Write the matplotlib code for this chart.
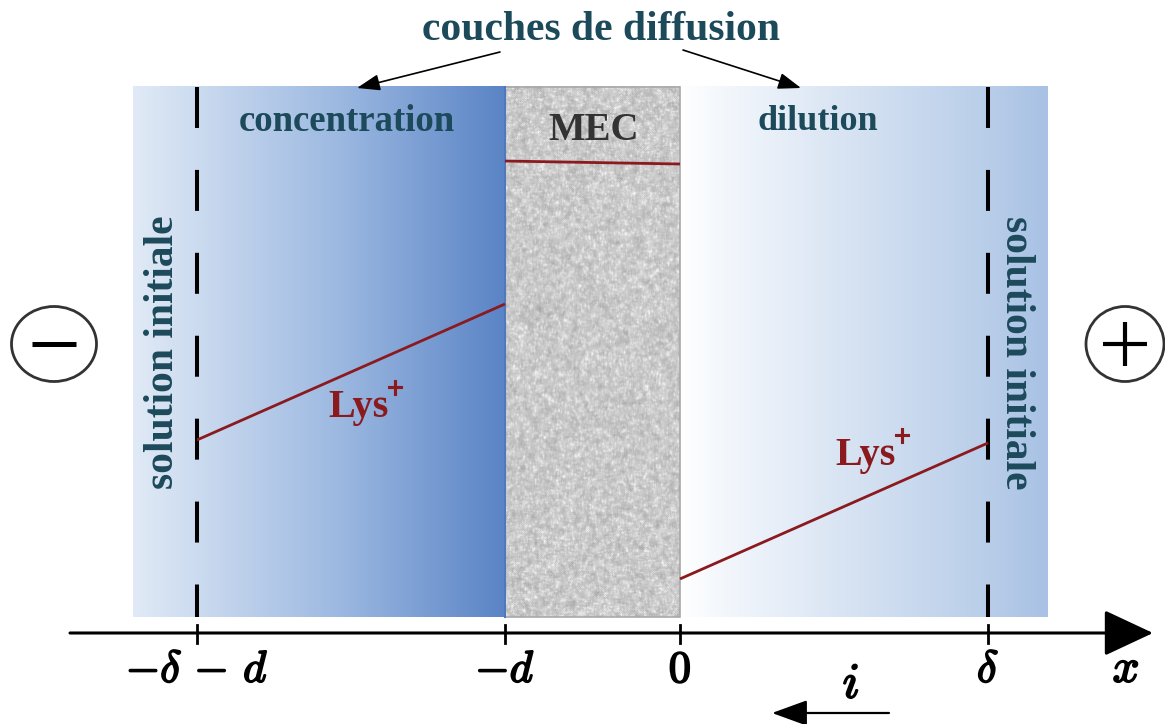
import numpy as np
import matplotlib
matplotlib.use("Agg")
import matplotlib.pyplot as plt
from matplotlib.patches import Ellipse, Rectangle
from matplotlib.colors import to_rgb
import matplotlib.patheffects as pe

plt.rcParams['mathtext.fontset'] = 'cm'
plt.rcParams['lines.scale_dashes'] = False

# ---------------- data (units of d) ----------------
d = 1.0
delta = 1.76
tick_positions = [-delta - d, -d, 0.0, delta]
tick_labels = [r'$-\delta\,-\,d$', r'$-d$', r'$0$', r'$\delta$']

# Lys+ concentration profiles (arbitrary units)
left_x = [-delta - d, -d]
left_c = [1.103, 1.880]
mem_x = [-d, 0.0]
mem_c = [2.697, 2.680]
right_x = [0.0, delta]
right_c = [0.309, 1.086]

# ---------------- layout ----------------
W, H = 1165, 724
U = 175.0           # pixels per unit
X0, Y0 = 680.0, 633.0  # pixel position of origin

fig = plt.figure(figsize=(W / 100, H / 100), dpi=100)
ax = fig.add_axes([0, 0, 1, 1])
ax.set_xlim(-X0 / U, (W - X0) / U)
ax.set_ylim((Y0 - H) / U, Y0 / U)
ax.axis('off')


def px(x):
    return (x - X0) / U


def py(y):
    return (Y0 - y) / U


teal = '#1c4a5b'
red = '#8b1a1f'
box_top, box_bot = py(87), py(617)
bold_fx = [pe.withStroke(linewidth=1.3, foreground='black')]


def gradient(x_a, x_b, stops, zorder=1):
    n = 400
    t = np.linspace(0, 1, n)
    pos = [s[0] for s in stops]
    cols = np.array([to_rgb(s[1]) for s in stops])
    rgb = np.stack([np.interp(t, pos, cols[:, k]) for k in range(3)], axis=-1)
    img = rgb[np.newaxis, :, :]
    ax.imshow(img, extent=[x_a, x_b, box_bot, box_top], aspect='auto',
              interpolation='bilinear', zorder=zorder)


# left solution + concentration layer
x_outer_l = px(133)
gradient(x_outer_l, -d, [(0, '#e1eaf6'), (0.16, '#cddcf0'), (0.55, '#9db9e1'), (1, '#5a84c6')])
# dilution layer + right solution
x_outer_r = px(1048)
gradient(0.0, x_outer_r, [(0, '#ffffff'), (0.12, '#f3f7fc'), (0.83, '#b9cee9'), (1, '#a8c1e4')])

# membrane texture
rng = np.random.default_rng(7)
hh, ww = 530, 175
noise = rng.random((hh, ww))
k = 2
pad = np.pad(noise, k, mode='edge')
blur = np.zeros_like(noise)
for i in range(2 * k + 1):
    for j in range(2 * k + 1):
        blur += pad[i:i + hh, j:j + ww]
blur /= (2 * k + 1) ** 2
blur = (blur - blur.mean()) / blur.std()
speck = (rng.random((hh, ww)) > 0.90).astype(float)
sp = np.pad(speck, 1, mode='edge')
speck = (sp[:-2, 1:-1] + sp[2:, 1:-1] + sp[1:-1, :-2] + sp[1:-1, 2:] + speck) / 5
g = 0.77 + 0.03 * blur + 0.24 * speck
g = np.clip(g, 0.62, 0.97)
ax.imshow(g, cmap='gray', vmin=0, vmax=1, extent=[-d, 0, box_bot, box_top],
          aspect='auto', interpolation='bilinear', zorder=1)
ax.add_patch(Rectangle((-d, box_bot), d, box_top - box_bot, fill=False,
                       ec='#a9a9a9', lw=1.2, zorder=2))
ax.plot([-d, -d], [box_bot, box_top], color='#4f79bb', lw=1.5, zorder=2)

# dashed boundaries of the diffusion layers
for xb in (-delta - d, delta):
    ax.plot([xb, xb], [box_top, box_bot], color='black', lw=2.9,
            dashes=(29.5, 30.2), zorder=3)

# concentration profiles
for xs, cs in ((left_x, left_c), (mem_x, mem_c), (right_x, right_c)):
    ax.plot(xs, cs, color=red, lw=2.0, zorder=4, solid_capstyle='butt')

# x axis
ax.annotate('', xy=(px(1153), 0), xytext=(px(70), 0),
            arrowprops=dict(arrowstyle='-|>,head_length=31,head_width=14.5',
                            mutation_scale=1, lw=2.2, color='black',
                            shrinkA=0, shrinkB=0), zorder=5)
for xt, lab in zip(tick_positions, tick_labels):
    ax.plot([xt, xt], [py(625), py(643)], color='black', lw=2.0, zorder=5)
    ax.text(xt, py(682), lab, ha='center', va='baseline', fontsize=32,
            zorder=5, path_effects=bold_fx)
ax.text(px(1126), py(682), r'$x$', ha='center', va='baseline', fontsize=34,
        path_effects=bold_fx)

# current arrow
ax.annotate('', xy=(px(772), py(713)), xytext=(px(889), py(713)),
            arrowprops=dict(arrowstyle='-|>,head_length=22,head_width=8',
                            mutation_scale=1, lw=1.6, color='black',
                            shrinkA=0, shrinkB=0))
ax.text(px(851), py(698), r'$i$', ha='center', va='baseline', fontsize=36,
        path_effects=bold_fx)

# texts
serif = 'Liberation Serif'
ax.text(px(601), py(40), 'couches de diffusion', ha='center', va='baseline',
        fontsize=30, fontweight='bold', family=serif, color=teal)
for (xs, ys), (xe, ye) in (((500, 52), (357, 88)), ((683, 50), (801, 88))):
    ax.annotate('', xy=(px(xe), py(ye)), xytext=(px(xs), py(ys)),
                arrowprops=dict(arrowstyle='-|>,head_length=14,head_width=5',
                                mutation_scale=1, lw=1.2, color='black',
                                shrinkA=0, shrinkB=0))
ax.text(px(347), py(131), 'concentration', ha='center', va='baseline',
        fontsize=26.5, fontweight='bold', family=serif, color=teal, zorder=6)
ax.text(px(818), py(130), 'dilution', ha='center', va='baseline',
        fontsize=26, fontweight='bold', family=serif, color=teal, zorder=6)
ax.text(px(594), py(140), 'MEC', ha='center', va='baseline',
        fontsize=28, fontweight='bold', family=serif, color='#333333', zorder=6)
ax.text(px(163), py(352), 'solution initiale', ha='center', va='center',
        rotation=90, fontsize=30, fontweight='bold', family=serif, color=teal, zorder=6)
ax.text(px(1016), py(353), 'solution initiale', ha='center', va='center',
        rotation=-90, fontsize=30, fontweight='bold', family=serif, color=teal, zorder=6)

for xl, yl in ((328, 417), (835, 465)):
    t = ax.text(px(xl), py(yl), 'Lys', ha='left', va='baseline', fontsize=29,
                fontweight='bold', family=serif, color=red, zorder=6)
    ax.annotate('+', xy=(0.96, 0.58), xycoords=t, ha='left', va='bottom',
                fontsize=22, fontweight='bold', family=serif, color=red, zorder=6,
                path_effects=[pe.withStroke(linewidth=0.8, foreground=red)])

# electrodes
for xc, w, sign in ((54, 85, '-'), (1125, 78, '+')):
    ax.add_patch(Ellipse((px(xc), py(344)), w / U, 75 / U, fill=False,
                         ec='#333333', lw=2.0, zorder=6))
    ax.plot([px(xc - 22), px(xc + 22)], [py(344), py(344)], color='black',
            lw=3.6 if sign == '-' else 3.0, zorder=6, solid_capstyle='butt')
    if sign == '+':
        ax.plot([px(xc), px(xc)], [py(322), py(366)], color='black', lw=3.0,
                zorder=6, solid_capstyle='butt')

fig.savefig('out.png', dpi=100)
